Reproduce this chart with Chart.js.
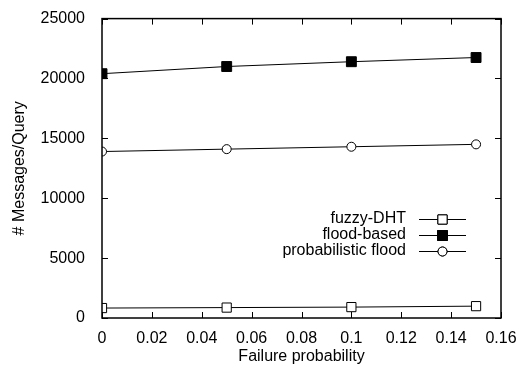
<!DOCTYPE html>
<html>
<head>
<meta charset="utf-8">
<script src="https://cdn.jsdelivr.net/npm/chart.js@4"></script>
<style>
  html, body { margin: 0; padding: 0; background: #fff; }
  #wrap { width: 520px; height: 366px; }
</style>
</head>
<body>
<div id="wrap"><canvas id="chart" width="520" height="366"></canvas></div>
<script>
// values
var failProb = [0, 0.05, 0.1, 0.15];
var fuzzyDht = [830, 870, 910, 990];
var floodBased = [20400, 21000, 21400, 21750];
var probFlood = [13900, 14100, 14300, 14500];

var xTicks = [0, 0.02, 0.04, 0.06, 0.08, 0.1, 0.12, 0.14, 0.16];
var yTicks = [0, 5000, 10000, 15000, 20000, 25000];

var font = "'Liberation Sans', Arial, sans-serif";

function pts(ys) {
  return failProb.map(function(x, i) { return {x: x, y: ys[i]}; });
}

// frame with gnuplot-like inward ticks on all four sides
var framePlugin = {
  id: 'frame',
  afterDraw: function(chart) {
    var ctx = chart.ctx, a = chart.chartArea;
    var xs = chart.scales.x, ys = chart.scales.y;
    ctx.save();
    ctx.strokeStyle = '#000';
    ctx.lineWidth = 1;
    ctx.beginPath();
    xTicks.forEach(function(v) {
      var px = Math.round(xs.getPixelForValue(v)) + 0.5;
      ctx.moveTo(px, a.bottom); ctx.lineTo(px, a.bottom - 6);
      ctx.moveTo(px, a.top); ctx.lineTo(px, a.top + 6);
    });
    yTicks.forEach(function(v) {
      var py = Math.round(ys.getPixelForValue(v)) + 0.5;
      ctx.moveTo(a.left, py); ctx.lineTo(a.left + 6, py);
      ctx.moveTo(a.right, py); ctx.lineTo(a.right - 6, py);
    });
    ctx.stroke();
    ctx.lineWidth = 1.5;
    ctx.strokeRect(a.left, a.top, a.right - a.left, a.bottom - a.top);
    ctx.restore();
  }
};

// legend drawn inside the plot, text right aligned before the sample
var keyPlugin = {
  id: 'key',
  afterDraw: function(chart) {
    var ctx = chart.ctx;
    var textRight = 406, lineL = 419, lineR = 466, top = 219, step = 16;
    ctx.save();
    ctx.font = '16px ' + font;
    ctx.textAlign = 'right';
    ctx.textBaseline = 'middle';
    chart.data.datasets.forEach(function(ds, i) {
      var y = top + i * step;
      ctx.fillStyle = '#000';
      ctx.fillText(ds.label, textRight, y);
      ctx.strokeStyle = '#000';
      ctx.lineWidth = 1;
      ctx.beginPath();
      ctx.moveTo(lineL, y + 0.5); ctx.lineTo(lineR, y + 0.5);
      ctx.stroke();
      Chart.helpers.drawPoint(ctx, {
        pointStyle: ds.pointStyle, radius: ds.pointRadius, borderWidth: 1
      }, (lineL + lineR) / 2, y + 0.5);
      ctx.fillStyle = ds.pointBackgroundColor;
      ctx.strokeStyle = '#000';
      ctx.fill();
      ctx.stroke();
    });
    ctx.restore();
  }
};

new Chart(document.getElementById('chart'), {
  type: 'line',
  data: {
    datasets: [
      {label: 'fuzzy-DHT', data: pts(fuzzyDht), pointStyle: 'rect', pointRadius: 6.5,
       pointBackgroundColor: '#fff', pointBorderColor: '#000', pointBorderWidth: 1,
       borderColor: '#000', borderWidth: 1, tension: 0},
      {label: 'flood-based', data: pts(floodBased), pointStyle: 'rect', pointRadius: 7,
       pointBackgroundColor: '#000', pointBorderColor: '#000', pointBorderWidth: 1,
       borderColor: '#000', borderWidth: 1, tension: 0},
      {label: 'probabilistic flood', data: pts(probFlood), pointStyle: 'circle', pointRadius: 4.5,
       pointBackgroundColor: '#fff', pointBorderColor: '#000', pointBorderWidth: 1,
       borderColor: '#000', borderWidth: 1, tension: 0}
    ]
  },
  options: {
    responsive: false,
    animation: false,
    layout: {padding: {top: 15, right: 19, left: 10, bottom: 0}},
    plugins: {legend: {display: false}, tooltip: {enabled: false}},
    scales: {
      x: {
        type: 'linear', min: 0, max: 0.16,
        afterBuildTicks: function(s) { s.ticks = xTicks.map(function(v) { return {value: v}; }); },
        afterFit: function(s) { s.height = 48; },
        grid: {display: false}, border: {display: false},
        ticks: {color: '#000', font: {family: font, size: 16}, padding: 3, maxRotation: 0,
                callback: function(v) { return String(+v.toFixed(2)); }},
        title: {display: true, text: 'Failure probability', color: '#000',
                font: {family: font, size: 16}, padding: {top: 2, bottom: 0}}
      },
      y: {
        type: 'linear', min: 0, max: 25000,
        afterBuildTicks: function(s) { s.ticks = yTicks.map(function(v) { return {value: v}; }); },
        afterFit: function(s) { s.width = 92; },
        grid: {display: false}, border: {display: false},
        ticks: {color: '#000', font: {family: font, size: 16}, padding: 9,
                callback: function(v) { return String(v); }},
        title: {display: true, text: '# Messages/Query', color: '#000',
                font: {family: font, size: 16}, padding: {top: 0, bottom: 4}}
      }
    }
  },
  plugins: [framePlugin, keyPlugin]
});
</script>
</body>
</html>
